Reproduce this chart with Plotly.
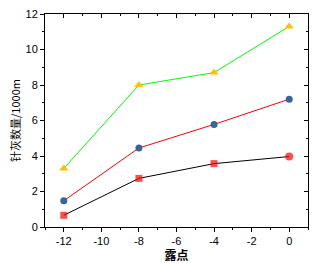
import plotly.graph_objects as go

x_vals = [-12, -8, -4, 0]
green_vals = [3.3, 8.0, 8.7, 11.3]
red_vals = [1.48, 4.45, 5.78, 7.2]
black_vals = [0.66, 2.74, 3.57, 3.97]
x_ticks = [-12, -10, -8, -6, -4, -2, 0]
x_tick_labels = ["-12", "-10", "-8", "-6", "-4", "-2", "0"]
y_ticks = [0, 2, 4, 6, 8, 10, 12]

fig = go.Figure()
fig.add_trace(go.Scatter(x=x_vals, y=green_vals, mode="lines+markers",
                         line=dict(color="#00ff00", width=1),
                         marker=dict(symbol="triangle-up", size=8, color="#ffc000", line=dict(width=0))))
fig.add_trace(go.Scatter(x=x_vals, y=red_vals, mode="lines+markers",
                         line=dict(color="#ff0000", width=1),
                         marker=dict(symbol="circle", size=7, color="#336699", line=dict(width=0))))
fig.add_trace(go.Scatter(x=x_vals, y=black_vals, mode="lines+markers",
                         line=dict(color="#000000", width=1),
                         marker=dict(symbol=["square", "square", "square", "circle"],
                                     size=[7, 7, 7, 8], color="#ff0000", line=dict(width=0))))
# invisible trace to activate mirrored axes
fig.add_trace(go.Scatter(x=[x_vals[0]], y=[y_ticks[0]], xaxis="x2", yaxis="y2",
                         mode="markers", marker=dict(opacity=0), hoverinfo="skip"))

tickfont = dict(family="Liberation Sans, Arial", size=11, color="black")
fig.update_layout(
    width=314, height=263,
    margin=dict(l=45, r=6, t=14, b=36),
    paper_bgcolor="white", plot_bgcolor="white",
    showlegend=False,
    xaxis=dict(range=[-13, 1], tickvals=x_ticks, ticktext=x_tick_labels, ticks="outside", ticklen=4,
               tickwidth=1, tickcolor="black", linecolor="black", linewidth=1, automargin=False,
               showline=True, showgrid=False, zeroline=False, tickfont=tickfont,
               minor=dict(dtick=1, tick0=0, ticks="outside", ticklen=2, tickcolor="black"),
               title=dict(text="<b>露点</b>", font=dict(family="Noto Sans CJK SC", size=12, color="black"),
                          standoff=5)),
    yaxis=dict(range=[0, 12], tickvals=y_ticks, ticks="outside", ticklen=4,
               tickwidth=1, tickcolor="black", linecolor="black", linewidth=1, automargin=False,
               showline=True, showgrid=False, zeroline=False, tickfont=tickfont,
               minor=dict(dtick=1, tick0=0, ticks="outside", ticklen=2, tickcolor="black"),
               title=dict(text="针灰数量/1000m", font=dict(family="Noto Sans CJK SC", size=11, color="black"),
                          standoff=2)),
    xaxis2=dict(range=[-13, 1], overlaying="x", side="top", tickvals=x_ticks,
                ticks="inside", ticklen=4, tickcolor="black", showticklabels=False,
                showline=True, linecolor="black", linewidth=1, showgrid=False, zeroline=False,
                minor=dict(dtick=1, tick0=0, ticks="inside", ticklen=2, tickcolor="black")),
    yaxis2=dict(range=[0, 12], overlaying="y", side="right", tickvals=y_ticks,
                ticks="inside", ticklen=4, tickcolor="black", showticklabels=False,
                showline=True, linecolor="black", linewidth=1, showgrid=False, zeroline=False,
                minor=dict(dtick=1, tick0=0, ticks="inside", ticklen=2, tickcolor="black")),
)
fig.write_html("out.html")
